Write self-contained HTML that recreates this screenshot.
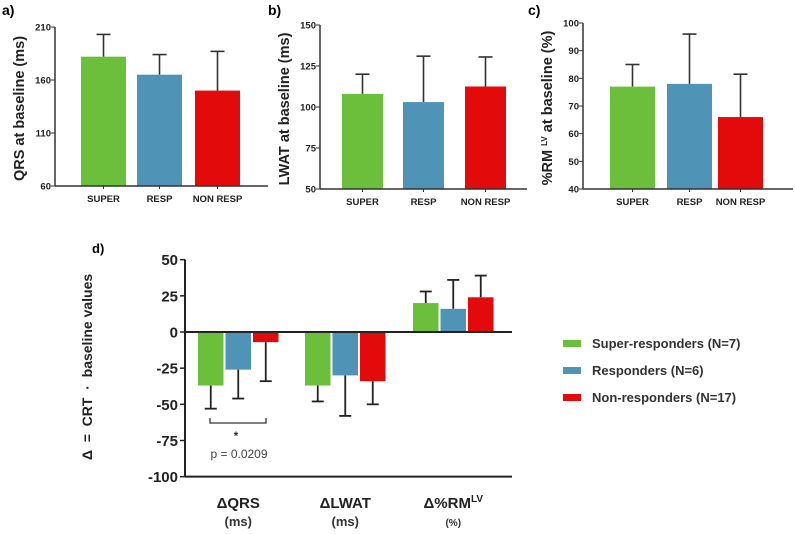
<!DOCTYPE html>
<html><head><meta charset="utf-8">
<style>
html,body{margin:0;padding:0;background:#fff;}
svg{display:block;font-family:"Liberation Sans",Arial,sans-serif;}
text{white-space:pre;}
</style></head>
<body>
<svg id="chart" width="795" height="534" viewBox="0 0 795 534" xmlns="http://www.w3.org/2000/svg"></svg>
<script>
const groups = ["SUPER","RESP","NON RESP"];
const colors = ["#6cbf3a","#4f93b6","#e20a0a"];
const qrsMean = [182,165,150];
const qrsErr = [21,19,37];
const lwatMean = [108,103,112.5];
const lwatErr = [12,28,18];
const rmMean = [77,78,66];
const rmErr = [8,18,15.5];
const qrsTicks = [60,110,160,210];
const lwatTicks = [50,75,100,125,150];
const rmTicks = [40,50,60,70,80,90,100];
const dCats = ["ΔQRS","ΔLWAT","Δ%RM"];
const dUnits = ["(ms)","(ms)","(%)"];
const dSuper = [-37,-37,20];
const dResp = [-26,-30,16];
const dNon = [-7,-34,24];
const dSuperErr = [-16,-11,8];
const dRespErr = [-20,-28,20];
const dNonErr = [-27,-16,15];
const dTicks = [-100,-75,-50,-25,0,25,50];
const legendLabels = ["Super-responders (N=7)","Responders (N=6)","Non-responders (N=17)"];

const NS="http://www.w3.org/2000/svg";
const svg=document.getElementById('chart');
function el(tag,attrs,parent,text){const e=document.createElementNS(NS,tag);for(const k in attrs)e.setAttribute(k,attrs[k]);if(text!==undefined)e.textContent=text;(parent||svg).appendChild(e);return e;}

function smallPanel(cfg){
  const g=el('g',{});
  
  
  const y=v=>cfg.y0+(v-cfg.vmin)/(cfg.vmax-cfg.vmin)*(cfg.y1-cfg.y0);
  const lab=el('text',{x:cfg.labX,y:15,'font-size':14,'font-weight':'bold'},g,cfg.letter);
  
  cfg.mean.forEach((m,i)=>{
    const bx=cfg.barX[i],bw=cfg.barW;
    const eT=y(m+cfg.err[i]);
    const eb=el('line',{x1:bx+bw/2,x2:bx+bw/2,y1:y(m),y2:eT,stroke:'#333','stroke-width':1.6},g);
    
    el('line',{x1:bx+bw/2-7,x2:bx+bw/2+7,y1:eT,y2:eT,stroke:'#333','stroke-width':1.6},g);
    const r=el('rect',{x:bx,y:y(m),width:bw,height:y(cfg.vmin)-y(m),fill:colors[i]},g);
    
    
    const t=el('text',{x:bx+bw/2,y:cfg.y0+16,'font-size':9.5,'font-weight':'bold','text-anchor':'middle',fill:'#222'},g,groups[i]);
    
    el('line',{x1:bx+bw/2,x2:bx+bw/2,y1:cfg.y0,y2:cfg.y0+3,stroke:'#333'},g);
  });
  el('line',{x1:cfg.ax,x2:cfg.ax,y1:y(cfg.vmax),y2:cfg.y0,stroke:'#333','stroke-width':1.5},g);
  el('line',{x1:cfg.ax,x2:cfg.axEnd,y1:cfg.y0,y2:cfg.y0,stroke:'#333','stroke-width':1.5},g);
  cfg.ticks.forEach(v=>{
    el('line',{x1:cfg.ax-4,x2:cfg.ax,y1:y(v),y2:y(v),stroke:'#333'},g);
    const t=el('text',{x:cfg.ax-4,y:y(v)+3.5,'font-size':9.5,'font-weight':'bold','text-anchor':'end',fill:'#222'},g,v);
    
  });
  const yt=el('text',{transform:`translate(${cfg.ax-31},${(cfg.y0+y(cfg.vmax))/2+2}) rotate(-90)`,'font-size':14.5,'font-weight':'bold','text-anchor':'middle',fill:'#222'},g);
  
  yt.innerHTML=cfg.title;
}
smallPanel({name:'panel-a-qrs',letter:'a)',labX:2,ax:55,axEnd:268,y0:186,y1:27,vmin:60,vmax:210,ticks:qrsTicks,mean:qrsMean,err:qrsErr,barX:[81,137,195],barW:45,title:'QRS at baseline (ms)'});
smallPanel({name:'panel-b-lwat',letter:'b)',labX:268,ax:320,axEnd:527,y0:189,y1:25,vmin:50,vmax:150,ticks:lwatTicks,mean:lwatMean,err:lwatErr,barX:[342,403,465],barW:41,title:'LWAT at baseline (ms)'});
smallPanel({name:'panel-c-rm',letter:'c)',labX:528,ax:583,axEnd:793,y0:189,y1:23,vmin:40,vmax:100,ticks:rmTicks,mean:rmMean,err:rmErr,barX:[610,667,718],barW:45,title:'%RM <tspan font-size="8" dy="-5">LV</tspan><tspan dy="5"> at baseline (%)</tspan>'});

// Panel d
const gd=el('g',{});


const dy=v=>332-v*(217/150);
const dl=el('text',{x:92,y:253,'font-size':13,'font-weight':'bold'},gd,'d)');

const series=[dSuper,dResp,dNon], serr=[dSuperErr,dRespErr,dNonErr];
const groupX=[198,305,413], bw=25.5, step=27.5;
dCats.forEach((c,ci)=>{
  series.forEach((s,si)=>{
    const bx=groupX[ci]+si*step, m=s[ci], e=m+serr[si][ci];
    const cx=bx+bw/2;
    el('line',{x1:cx,x2:cx,y1:dy(m),y2:dy(e),stroke:'#222','stroke-width':1.8},gd);
    el('line',{x1:cx-6,x2:cx+6,y1:dy(e),y2:dy(e),stroke:'#222','stroke-width':1.8},gd);
    const r=el('rect',{x:bx,y:Math.min(dy(m),dy(0)),width:bw,height:Math.abs(dy(m)-dy(0)),fill:colors[si]},gd);
    
    
  });
  const cxm=groupX[ci]+step+bw/2;
  const t=el('text',{x:cxm,y:508,'font-size':15,'font-weight':'bold','text-anchor':'middle',fill:'#222'},gd);
  
  t.innerHTML=c+(ci===2?'<tspan font-size="10" dy="-6">LV</tspan>':'');
  const u=el('text',{x:cxm,y:526,'font-size':ci===2?10:13,'font-weight':'bold','text-anchor':'middle',fill:'#333'},gd,dUnits[ci]);
  
});
el('line',{x1:185,x2:512,y1:dy(0),y2:dy(0),stroke:'#222','stroke-width':2},gd);
el('line',{x1:185,x2:512,y1:dy(-100),y2:dy(-100),stroke:'#222','stroke-width':2},gd);
el('line',{x1:185,x2:185,y1:dy(50),y2:dy(-100),stroke:'#222','stroke-width':2},gd);
dTicks.forEach(v=>{
  el('line',{x1:180,x2:185,y1:dy(v),y2:dy(v),stroke:'#222','stroke-width':1.5},gd);
  const t=el('text',{x:178,y:dy(v)+5.5,'font-size':15,'font-weight':'bold','text-anchor':'end',fill:'#222'},gd,v);
  
});
const dyt=el('text',{transform:'translate(92,367) rotate(-90)','font-size':14,'font-weight':'bold','text-anchor':'middle',fill:'#222'},gd,'Δ  =  CRT  ·  baseline values');

const br=el('path',{d:'M210,418 V423 H266 V418',fill:'none',stroke:'#333','stroke-width':1.3},gd);

el('text',{x:236,y:440,'font-size':12,'font-weight':'bold','text-anchor':'middle',fill:'#333'},gd,'*');
const pv=el('text',{x:239,y:458,'font-size':12,'text-anchor':'middle',fill:'#444'},gd,'p = 0.0209');


// Legend
const lg=el('g',{});


legendLabels.forEach((l,i)=>{
  const yy=340+i*27;
  const s=el('rect',{x:563,y:yy,width:18,height:7,fill:colors[i]},lg);
  
  const t=el('text',{x:592,y:yy+8,'font-size':13,'font-weight':'bold',fill:'#333'},lg,l);
  
});
</script>
</body></html>
